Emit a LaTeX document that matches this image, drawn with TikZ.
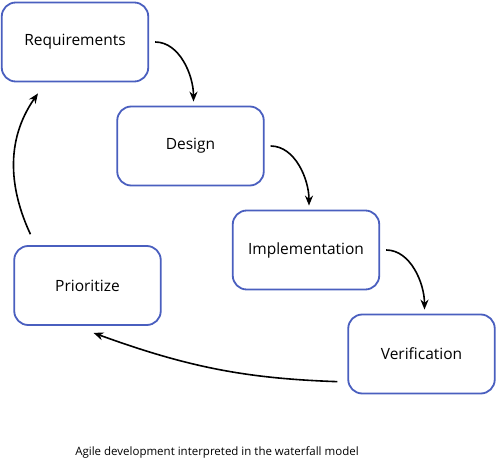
\documentclass[tikz,border=0pt]{standalone}
\usepackage{fontspec}
\setmainfont{Open Sans}
\usepackage{xcolor}
\usetikzlibrary{arrows.meta,positioning}

\definecolor{boxblue}{HTML}{4A5FBF}

\begin{document}
\begin{tikzpicture}[
    x=1pt, y=-1pt,
    stage/.style={rectangle, draw=boxblue, fill=white, line width=1.8pt, rounded corners=14pt, align=center, minimum height=79pt, minimum width=146.5pt, font=\fontsize{15.5}{18}\selectfont},
    flow/.style={-{Stealth[length=10pt,width=8pt]}, line width=1.6pt, draw=black}
]
    \useasboundingbox (0,0) rectangle (496,460);

    \node [stage] (req) at (75,42) {Requirements};
    \node [stage, below right=23.2pt and -32.8pt of req] (des) {Design};
    \node [stage, below right=23.2pt and -32.8pt of des] (imp) {Implementation};
    \node [stage, below right=23.2pt and -32.8pt of imp] (ver) {Verification};
    \node [stage] (pri) at (87.5,285.5) {Prioritize};

    \node [font=\fontsize{11.5}{14}\selectfont] (cap) at (217,452) {Agile development interpreted in the waterfall model};

    \draw [flow, shorten <=6pt, shorten >=4pt] (req.east) to[out=0, in=90] ([xshift=3pt]des.north);
    \draw [flow, shorten <=6pt, shorten >=4pt] (des.east) to[out=0, in=90] ([xshift=3pt]imp.north);
    \draw [flow, shorten <=6pt, shorten >=4pt] (imp.east) to[out=0, in=90] ([xshift=3pt]ver.north);
    \draw [flow, shorten <=10pt] ([yshift=-28pt]ver.west) to[out=178, in=-20] ([shift={(6pt,-7pt)}]pri.south);
    \draw [flow, shorten <=12pt] ([xshift=-52pt]pri.north) to[out=115, in=235] ([shift={(-37pt,-11pt)}]req.south);
\end{tikzpicture}
\end{document}
